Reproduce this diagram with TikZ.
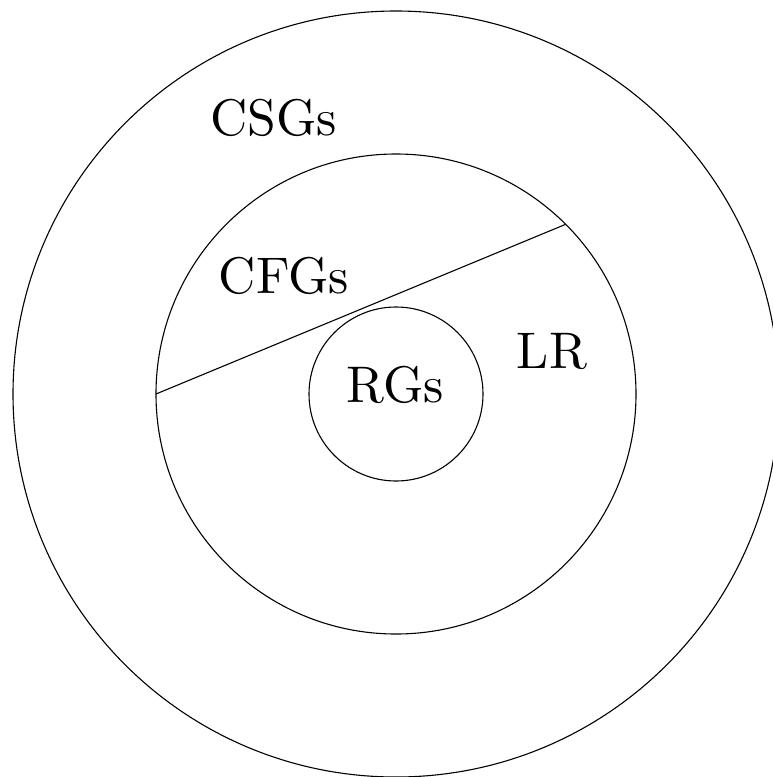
\documentclass[tikz,border=0pt]{standalone}
\usepackage{fontspec}
\newfontfamily\lmten{lmroman10-regular.otf}
\begin{document}
\begin{tikzpicture}[x=1pt,y=-1pt,
  ring/.style={circle,draw,line width=1.1pt,inner sep=0pt,outer sep=0pt},
  lab/.style={inner sep=0pt,anchor=base,font=\lmten\fontsize{51.5}{60}\selectfont}]
\useasboundingbox (0,0) rectangle (773,777);
\clip (0,0) rectangle (773,777);
\node[ring,minimum size=766pt] (outer) at (396,394) {};
\node[ring,minimum size=480pt] (mid) at (396,394) {};
\node[ring,minimum size=174pt] (inner) at (396,394) {};
\draw[line width=1.1pt] (mid.180) -- (mid.45);
\node[lab] (csg) at (273.5,135) {CSGs};
\node[lab] (cfg) at (284,293) {CFGs};
\node[lab] (rg) at (395.5,402) {RGs};
\node[lab] (lr) at (552,368) {LR};
\end{tikzpicture}
\end{document}
